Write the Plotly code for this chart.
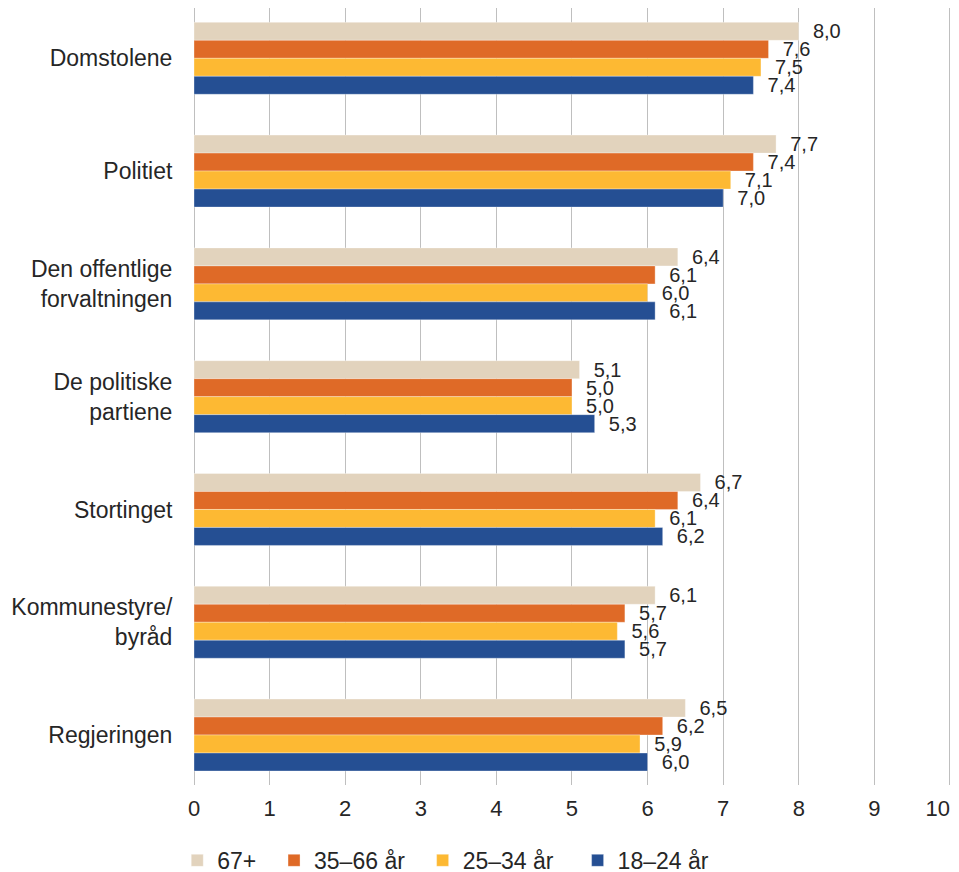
import plotly.graph_objects as go

# Institutions (top to bottom) and age groups
categories = [
    "Domstolene",
    "Politiet",
    "Den offentlige<br>forvaltningen",
    "De politiske<br>partiene",
    "Stortinget",
    "Kommunestyre/<br>byråd",
    "Regjeringen",
]
groups = ["67+", "35–66 år", "25–34 år", "18–24 år"]

# Average trust score (0–10) per age group
vals_67 = [8.0, 7.7, 6.4, 5.1, 6.7, 6.1, 6.5]
vals_35_66 = [7.6, 7.4, 6.1, 5.0, 6.4, 5.7, 6.2]
vals_25_34 = [7.5, 7.1, 6.0, 5.0, 6.1, 5.6, 5.9]
vals_18_24 = [7.4, 7.0, 6.1, 5.3, 6.2, 5.7, 6.0]

series = [vals_67, vals_35_66, vals_25_34, vals_18_24]
colors = ["#E2D3BD", "#DF6A27", "#FDB933", "#254F93"]

tick_vals = list(range(0, 11))
tick_text = [str(v) for v in tick_vals]
# keep the last tick label inside the page
tick_text[-1] = tick_text[-1] + "\u00a0" * 4

# extra spacing after each legend entry
legend_pad = ["\u00a0\u00a0", "\u00a0\u00a0", "\u00a0\u00a0\u00a0", ""]

FONT = "Liberation Sans, Arial, sans-serif"
TEXT = "#262626"

fig = go.Figure()
for name, pad, vals, col in zip(groups, legend_pad, series, colors):
    fig.add_trace(go.Bar(
        y=categories,
        x=vals,
        name=name + pad,
        orientation="h",
        marker=dict(color=col, line=dict(color="rgba(255,255,255,0.55)", width=0.6)),
        texttemplate="\u00a0\u00a0%{x:.1f}",
        textposition="outside",
        constraintext="none",
        cliponaxis=False,
        textfont=dict(family=FONT, size=20, color=TEXT),
        hoverinfo="skip",
    ))

fig.update_layout(
    width=959,
    height=872,
    margin=dict(l=194, r=3, t=8, b=87, autoexpand=False),
    paper_bgcolor="white",
    plot_bgcolor="white",
    barmode="group",
    bargap=0.362,
    bargroupgap=0,
    separators=", ",
    font=dict(family=FONT, color=TEXT),
    showlegend=True,
    legend=dict(
        orientation="h",
        x=-0.022,
        xanchor="left",
        y=-0.097,
        yanchor="middle",
        font=dict(family=FONT, size=23, color=TEXT),
        traceorder="normal",
        itemwidth=30,
    ),
    xaxis=dict(
        range=[0, 10.08],
        tickvals=tick_vals,
        ticktext=tick_text,
        ticklabeloverflow="allow",
        showgrid=True,
        gridcolor="#BFBFBF",
        gridwidth=1,
        zeroline=True,
        zerolinecolor="#BFBFBF",
        zerolinewidth=1,
        showline=False,
        ticks="outside",
        ticklen=4,
        tickcolor="rgba(0,0,0,0)",
        tickfont=dict(family=FONT, size=22, color=TEXT),
    ),
    yaxis=dict(
        type="category",
        range=[6.443, -0.446],
        showgrid=False,
        zeroline=False,
        showline=False,
        ticks="outside",
        ticklen=16,
        tickcolor="rgba(0,0,0,0)",
        tickfont=dict(family=FONT, size=23, color=TEXT),
    ),
)

fig.write_html("out.html")
